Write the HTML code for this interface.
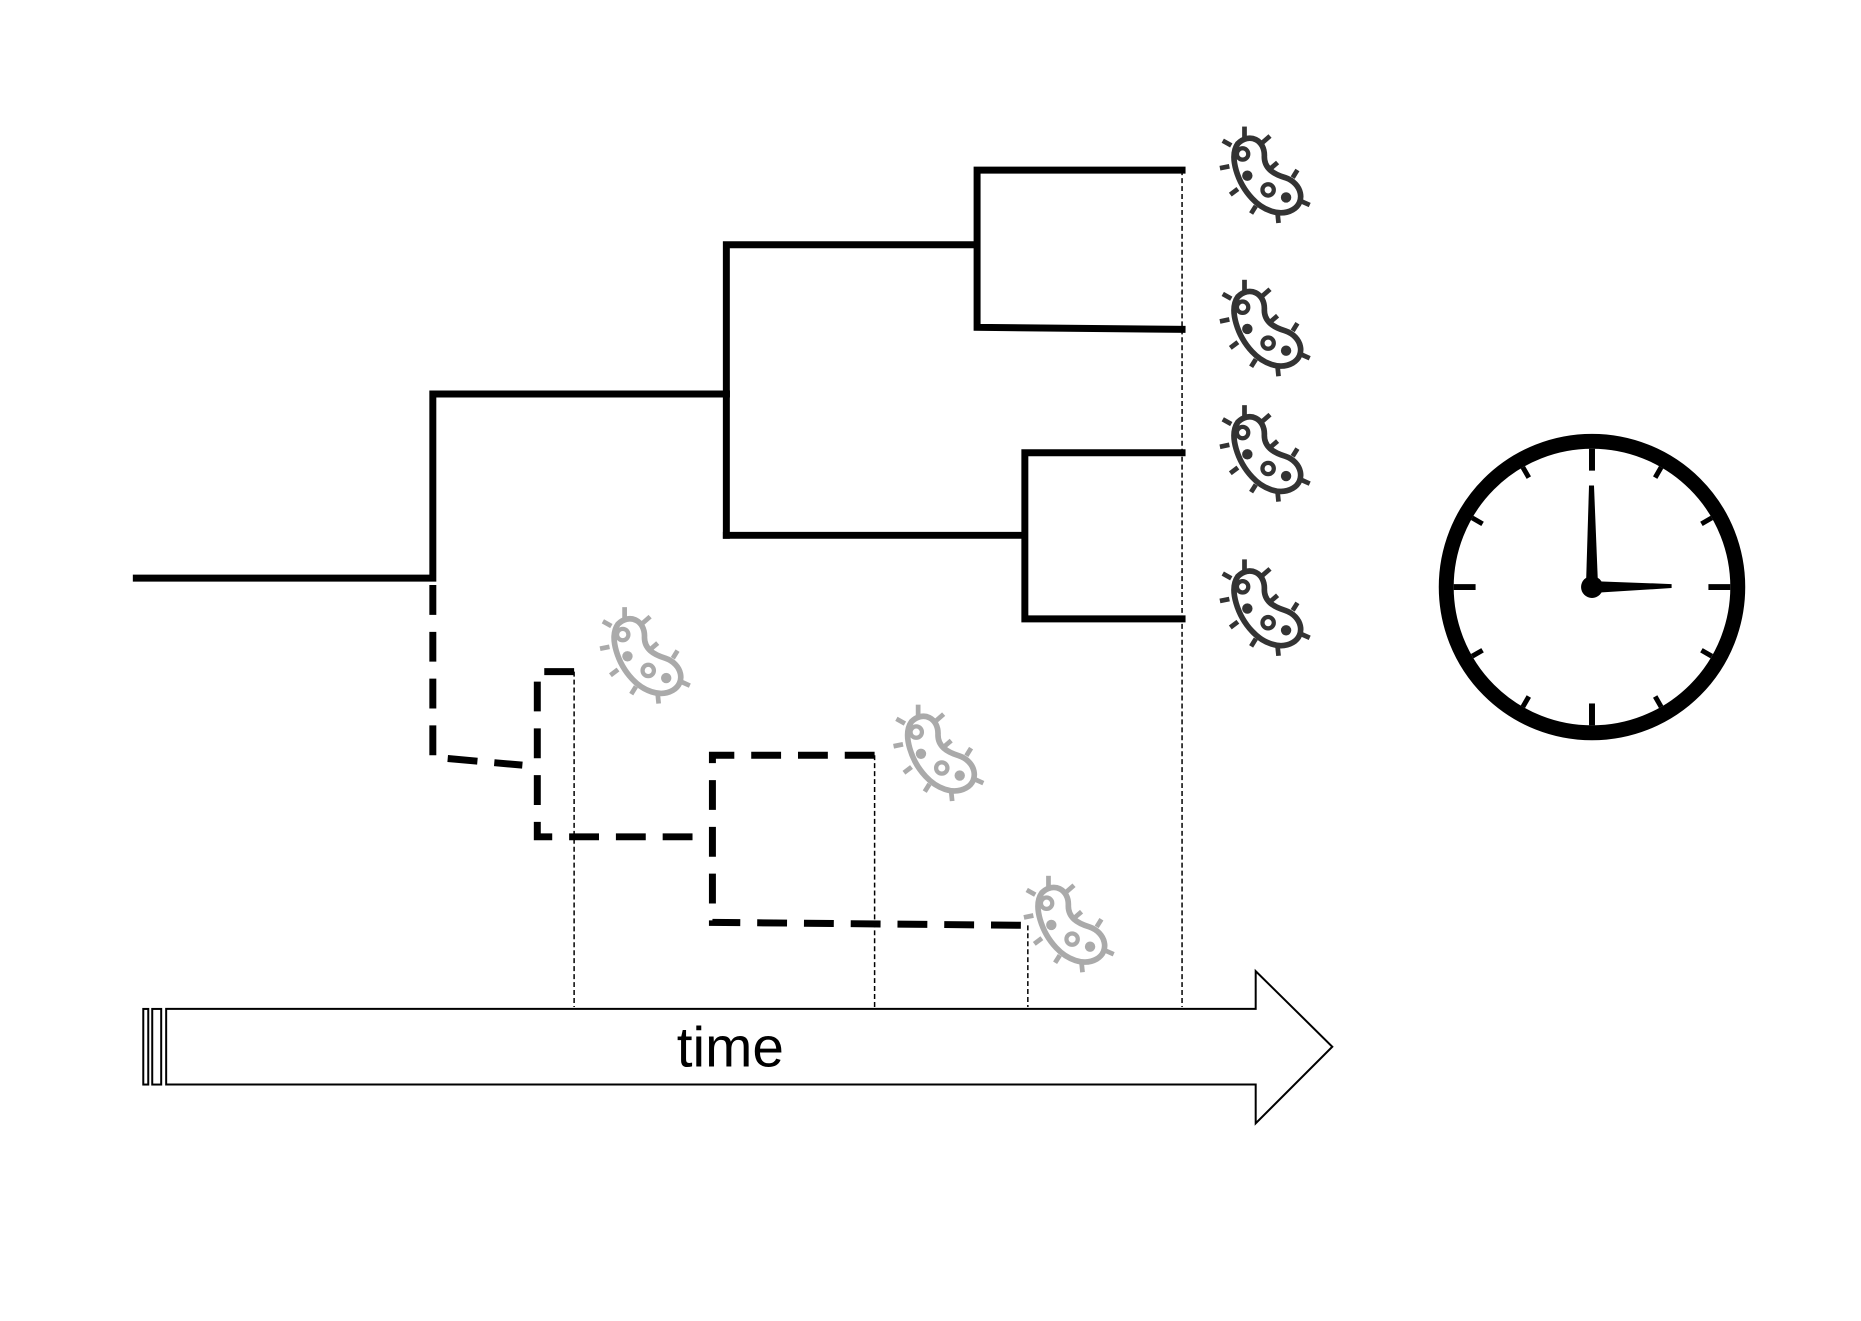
<!DOCTYPE html>
<html><head><meta charset="utf-8"><style>
html,body{margin:0;padding:0;background:#fff;}
svg{display:block;}
</style></head><body>
<svg width="1861" height="1321" viewBox="0 0 1861 1321" xmlns="http://www.w3.org/2000/svg">
<defs>
<g id="bact">
<path d="M18,14 C30,2 47,10 46,28 C46,40 55,46 68,50 C86,56 90,76 76,84 C62,92 44,84 33,72 C18,56 8,28 18,14 Z" fill="none" stroke-width="6" stroke-linejoin="round"/>
<g stroke-width="5" stroke-linecap="butt">
<line x1="25" y1="8" x2="25" y2="-4"/><line x1="11" y1="16" x2="2" y2="11"/><line x1="44" y1="13" x2="52" y2="6"/>
<line x1="9" y1="38" x2="-1" y2="40"/><line x1="53" y1="40" x2="60" y2="34"/><line x1="18" y1="62" x2="10" y2="68"/>
<line x1="76" y1="50" x2="81" y2="42"/><line x1="37" y1="80" x2="32" y2="88"/><line x1="60" y1="88" x2="61" y2="98"/><line x1="85" y1="75" x2="94" y2="79"/>
</g>
<circle cx="23" cy="25" r="6" fill="none" stroke-width="4.5"/>
<circle cx="50" cy="63" r="6" fill="none" stroke-width="4.5"/>
<circle cx="28" cy="48" r="5.5" stroke="none"/>
<circle cx="69" cy="71" r="5.5" stroke="none"/>
</g>
</defs>
<g transform="scale(0.995)">
<g stroke="#000" stroke-width="7" fill="none" stroke-linecap="square">
<polyline points="137,581 435,581 435,396 730,396"/>
<polyline points="730,396 730,246 978,246"/>
<polyline points="730,538 730,396"/>
<polyline points="1188,171 982,171 982,329 1188,331"/>
<polyline points="730,538 1028,538"/>
<polyline points="1188,455 1030,455 1030,622 1188,622"/>
</g>
<g stroke="#000" stroke-width="7" fill="none" stroke-dasharray="30,17">
<polyline points="435,588 435,761 525,769"/>
<polyline points="577,675 540,675 540,841 716,841"/>
<polyline points="879,759 716,759 716,927 1032,930"/>
</g>
<g stroke="#000" stroke-width="1.5" stroke-dasharray="5,3">
<line x1="577" y1="675" x2="577" y2="1012"/>
<line x1="879" y1="759" x2="879" y2="1012"/>
<line x1="1033" y1="930" x2="1033" y2="1012"/>
<line x1="1188" y1="171" x2="1188" y2="1012"/>
</g>
<g stroke="#000" stroke-width="2" fill="#fff">
<rect x="144" y="1014" width="5" height="76"/>
<rect x="153" y="1014" width="9" height="76"/>
<polygon points="167,1014 1262,1014 1262,976 1339,1052 1262,1129 1262,1090 167,1090"/>
</g>
<text x="734" y="1072" text-anchor="middle" font-family="Liberation Sans, sans-serif" font-size="57" fill="#000">time</text>
<g fill="#333" stroke="#333">
<use href="#bact" transform="translate(1227,131) scale(0.95)"/>
<use href="#bact" transform="translate(1227,285) scale(0.95)"/>
<use href="#bact" transform="translate(1227,411) scale(0.95)"/>
<use href="#bact" transform="translate(1227,566) scale(0.95)"/>
</g>
<g fill="#aaa" stroke="#aaa">
<use href="#bact" transform="translate(604,614) scale(0.95)"/>
<use href="#bact" transform="translate(899,712) scale(0.95)"/>
<use href="#bact" transform="translate(1030,884) scale(0.95)"/>
</g>
<g>
<circle cx="1600" cy="590" r="146.5" fill="none" stroke="#000" stroke-width="15"/>
<g stroke="#000" stroke-width="6">
<line x1="1600" y1="451" x2="1600" y2="473"/>
<line x1="1600" y1="729" x2="1600" y2="707"/>
<line x1="1461" y1="590" x2="1483" y2="590"/>
<line x1="1739" y1="590" x2="1717" y2="590"/>
</g>
<g stroke="#000" stroke-width="5" transform="translate(1600,590)">
<line x1="0" y1="-139" x2="0" y2="-127" transform="rotate(30)"/>
<line x1="0" y1="-139" x2="0" y2="-127" transform="rotate(60)"/>
<line x1="0" y1="-139" x2="0" y2="-127" transform="rotate(120)"/>
<line x1="0" y1="-139" x2="0" y2="-127" transform="rotate(150)"/>
<line x1="0" y1="-139" x2="0" y2="-127" transform="rotate(210)"/>
<line x1="0" y1="-139" x2="0" y2="-127" transform="rotate(240)"/>
<line x1="0" y1="-139" x2="0" y2="-127" transform="rotate(300)"/>
<line x1="0" y1="-139" x2="0" y2="-127" transform="rotate(330)"/>
</g>
<polygon points="1597,488 1602,488 1606,587 1594,587" fill="#000"/>
<polygon points="1600,584 1680,587 1680,591 1600,596" fill="#000"/>
<circle cx="1600" cy="590" r="11" fill="#000"/>
</g>
</g>
</svg>
</body></html>
